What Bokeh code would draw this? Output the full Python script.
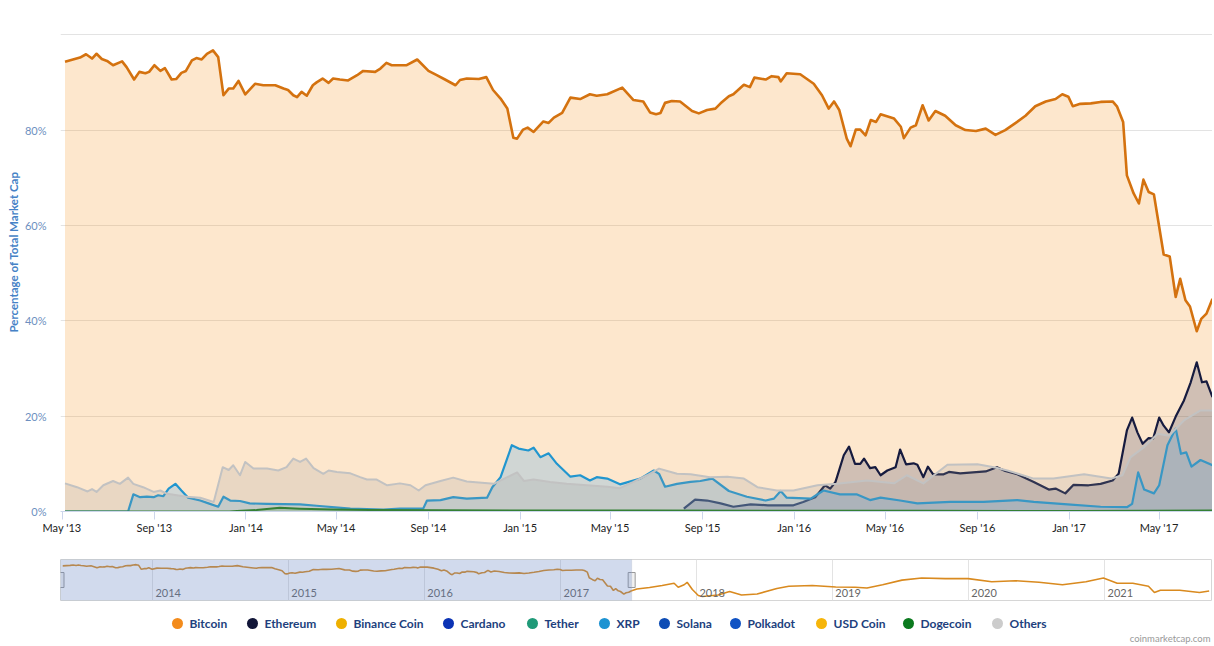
import pandas as pd
from bokeh.plotting import figure
from bokeh.models import ColumnDataSource, Range1d, FixedTicker, MonthsTicker, DatetimeTickFormatter, Title, BoxAnnotation
from bokeh.layouts import column
from bokeh.embed import file_html
from bokeh.resources import INLINE
from bokeh.core.properties import value

FONT = "Lato"

# ---------------- data (percentage of total market cap) ----------------
btc_dates = ["2013-05-05","2013-05-25","2013-06-02","2013-06-10","2013-06-16","2013-06-23","2013-06-30",
    "2013-07-08","2013-07-20","2013-07-26","2013-08-05","2013-08-12","2013-08-20","2013-08-25",
    "2013-09-01","2013-09-09","2013-09-15","2013-09-24","2013-09-30","2013-10-07","2013-10-13",
    "2013-10-21","2013-10-27","2013-11-03","2013-11-10","2013-11-18","2013-11-25","2013-12-02",
    "2013-12-09","2013-12-15","2013-12-22","2013-12-31",
    "2014-01-13","2014-01-24","2014-02-09","2014-02-20","2014-02-26","2014-03-05","2014-03-10",
    "2014-03-16","2014-03-23","2014-03-31","2014-04-05","2014-04-13","2014-04-21","2014-04-27",
    "2014-05-06","2014-05-17","2014-05-29","2014-06-06","2014-06-22","2014-06-29","2014-07-07",
    "2014-07-14","2014-07-25","2014-08-03","2014-08-17","2014-09-01","2014-09-12","2014-09-23",
    "2014-10-07","2014-10-13","2014-10-22","2014-11-07","2014-11-17","2014-11-26","2014-12-06",
    "2014-12-15","2014-12-23","2014-12-28",
    "2015-01-05","2015-01-11","2015-01-19","2015-02-01","2015-02-08","2015-02-15","2015-02-26",
    "2015-03-09","2015-03-22","2015-04-04","2015-04-13","2015-04-27","2015-05-17","2015-06-01",
    "2015-06-14","2015-06-23","2015-07-01","2015-07-07","2015-07-13","2015-07-22","2015-08-02",
    "2015-08-18","2015-08-27","2015-09-07","2015-09-18","2015-09-25","2015-10-06","2015-10-12",
    "2015-10-26","2015-11-03","2015-11-09","2015-11-24","2015-12-02","2015-12-11","2015-12-14",
    "2015-12-22",
    "2016-01-09","2016-01-27","2016-02-07","2016-02-16","2016-02-23","2016-03-01","2016-03-11",
    "2016-03-16","2016-03-23","2016-03-29","2016-04-05","2016-04-12","2016-04-19","2016-04-25",
    "2016-05-13","2016-05-22","2016-05-26","2016-06-04","2016-06-11","2016-06-20","2016-06-28",
    "2016-07-07","2016-07-20","2016-08-03","2016-08-16","2016-08-30","2016-09-12","2016-09-25",
    "2016-10-08","2016-10-22","2016-11-04","2016-11-17","2016-12-01","2016-12-14","2016-12-23",
    "2016-12-31",
    "2017-01-06","2017-01-16","2017-01-30","2017-02-12","2017-02-28","2017-03-06","2017-03-14",
    "2017-03-19","2017-03-28","2017-04-04","2017-04-10","2017-04-17","2017-04-24","2017-05-07",
    "2017-05-15","2017-05-23","2017-05-29","2017-06-05","2017-06-11","2017-06-20","2017-06-26",
    "2017-07-03","2017-07-11"]
btc_share = [94.3,95.2,95.9,95.0,96.0,94.9,94.5,93.6,94.4,93.2,90.6,92.2,91.9,92.2,93.6,92.4,93.0,
    90.6,90.7,92.0,92.4,94.6,95.1,94.8,96.0,96.7,95.3,87.3,88.7,88.7,90.3,87.5,
    89.7,89.4,89.4,88.7,88.4,87.3,86.9,88.0,87.2,89.4,90.0,90.8,89.9,90.8,90.6,90.4,91.5,92.4,
    92.2,92.9,94.1,93.6,93.6,93.6,94.8,92.4,91.5,90.6,89.4,90.5,90.8,90.7,91.1,88.4,86.6,84.5,
    78.4,78.2,
    80.1,80.5,79.6,81.8,81.5,82.6,83.6,86.8,86.5,87.5,87.2,87.5,88.9,86.3,86.0,83.7,83.3,83.6,
    85.7,86.1,86.0,84.0,83.5,84.2,84.5,85.6,87.1,87.5,89.5,89.0,91.0,90.6,91.3,91.1,90.2,91.9,
    91.7,89.7,87.3,84.5,86.0,84.2,78.2,76.6,80.1,80.1,78.9,82.1,81.7,83.3,82.4,80.7,78.3,80.5,
    81.0,85.2,82.0,84.0,83.0,81.0,80.0,79.8,80.3,79.0,80.0,81.5,83.0,85.0,86.0,86.5,87.5,87.0,
    85.0,85.5,85.6,85.9,86.0,84.9,81.7,70.5,66.7,64.6,69.6,67.0,66.5,53.9,53.5,45.0,48.8,44.3,
    43.0,37.8,40.4,41.5,44.6]

eth_dates = ["2015-08-07","2015-08-22","2015-09-07","2015-09-25","2015-10-12","2015-11-04","2015-11-27",
    "2015-12-31","2016-01-13","2016-01-29","2016-02-11","2016-02-18","2016-02-25","2016-03-07",
    "2016-03-14","2016-03-22","2016-03-29","2016-04-03","2016-04-11","2016-04-18","2016-04-25",
    "2016-05-04","2016-05-15","2016-05-21","2016-05-29","2016-06-08","2016-06-13","2016-06-21",
    "2016-06-27","2016-07-04","2016-07-18","2016-07-25","2016-08-09","2016-09-12","2016-09-27",
    "2016-10-08","2016-10-24","2016-11-15","2016-12-05","2016-12-14","2016-12-27","2017-01-07",
    "2017-01-27","2017-02-12","2017-02-28","2017-03-08","2017-03-19","2017-03-26","2017-04-02",
    "2017-04-09","2017-04-17","2017-04-23","2017-05-01","2017-05-07","2017-05-14","2017-05-23",
    "2017-06-03","2017-06-12","2017-06-20","2017-06-27","2017-07-03","2017-07-11"]
eth_share = [0.6,2.5,2.3,1.7,1.0,1.5,1.3,1.3,2.0,3.0,5.5,4.8,6.2,11.8,13.6,10.0,10.0,11.1,9.1,9.3,
    7.6,8.6,9.3,13.0,9.9,10.1,9.8,7.2,9.4,7.8,7.8,8.3,8.0,8.4,9.3,8.5,7.8,6.2,4.6,4.8,3.8,5.6,
    5.5,5.8,6.5,7.9,17.0,19.7,16.6,14.2,15.4,15.3,19.7,18.0,16.6,19.9,23.3,27.1,31.3,27.1,27.3,24.0]

xrp_dates = ["2013-05-05","2013-07-28","2013-08-04","2013-08-13","2013-08-22","2013-08-31","2013-09-06",
    "2013-09-13","2013-09-20","2013-09-29","2013-10-07","2013-10-16","2013-11-01","2013-11-14",
    "2013-11-25","2013-12-02","2013-12-11","2013-12-24","2014-01-06","2014-01-29","2014-03-14",
    "2014-04-05","2014-05-20","2014-07-03","2014-07-25","2014-08-25","2014-08-30","2014-09-17",
    "2014-10-04","2014-10-22","2014-11-18","2014-11-25","2014-12-06","2014-12-21","2014-12-30",
    "2015-01-12","2015-01-19","2015-01-28","2015-02-08","2015-02-19","2015-03-09","2015-03-22",
    "2015-04-04","2015-04-13","2015-04-27","2015-05-14","2015-06-10","2015-06-28","2015-07-05",
    "2015-07-13","2015-07-29","2015-08-16","2015-08-29","2015-09-14","2015-10-06","2015-10-30",
    "2015-11-24","2015-12-05","2015-12-14","2015-12-22","2016-01-23","2016-02-09","2016-03-02",
    "2016-03-24","2016-04-11","2016-04-25","2016-05-21","2016-06-13","2016-07-27","2016-09-09",
    "2016-10-24","2016-11-15","2016-12-30","2017-02-12","2017-03-19","2017-03-26","2017-04-03",
    "2017-04-11","2017-04-24","2017-05-01","2017-05-12","2017-05-23","2017-05-30","2017-06-06",
    "2017-06-13","2017-06-25","2017-07-11"]
xrp_share = [0,0,3.6,3.0,3.1,3.0,3.4,3.2,4.8,5.8,4.4,2.9,2.3,1.6,1.0,3.1,2.3,2.2,
    1.7,1.6,1.5,1.2,0.6,0.4,0.6,0.6,2.3,2.4,3.0,2.7,2.9,5.1,7.2,13.9,13.2,
    12.8,13.4,11.4,12.2,10.0,7.3,7.6,6.5,7.2,6.9,5.7,6.9,8.6,7.9,5.2,5.8,6.2,6.4,6.9,4.3,3.1,
    2.3,2.7,4.3,2.9,
    2.7,4.4,3.6,3.6,2.4,2.9,2.3,1.7,2.0,2.0,2.4,2.0,1.5,
    1.0,0.9,1.6,8.2,4.6,3.8,5.5,13.9,17.4,12.1,12.4,9.4,10.8,9.7]

doge_dates = ["2013-05-05","2013-12-10","2013-12-20","2014-01-15","2014-02-15","2014-03-14","2014-04-27",
    "2014-06-15","2014-09-15","2015-01-15","2015-06-15","2016-01-15","2016-06-15","2017-01-15",
    "2017-04-15","2017-07-11"]
doge_share = [0,0,0.1,0.3,0.8,0.6,0.4,0.3,0.25,0.2,0.2,0.15,0.15,0.1,0.15,0.2]

oth_dates = ["2013-05-05","2013-05-21","2013-06-04","2013-06-10","2013-06-16","2013-06-25","2013-07-08",
    "2013-07-17","2013-07-28","2013-08-04","2013-08-17","2013-08-31","2013-09-09","2013-09-18",
    "2013-10-01","2013-10-14","2013-11-01","2013-11-19","2013-12-01","2013-12-09","2013-12-15",
    "2013-12-24","2013-12-31","2014-01-11","2014-01-29","2014-02-13","2014-02-24","2014-03-05",
    "2014-03-14","2014-03-22","2014-04-01","2014-04-14","2014-04-21","2014-05-02","2014-05-20",
    "2014-06-02","2014-06-11","2014-06-24","2014-07-08","2014-07-25","2014-08-08","2014-08-19",
    "2014-08-28","2014-09-17","2014-10-04","2014-10-22","2014-11-27","2014-12-15","2014-12-28",
    "2015-01-06","2015-01-19","2015-02-10","2015-03-04","2015-03-31","2015-04-27","2015-05-14",
    "2015-06-01","2015-06-19","2015-07-05","2015-07-16","2015-07-29","2015-08-16","2015-09-11",
    "2015-10-04","2015-10-26","2015-11-13","2015-12-09","2015-12-31","2016-02-01","2016-02-27",
    "2016-04-07","2016-05-13","2016-05-30","2016-06-21","2016-07-05","2016-07-23","2016-09-01",
    "2016-09-23","2016-10-11","2016-11-15","2016-12-11","2017-01-21","2017-02-26","2017-03-13",
    "2017-03-24","2017-04-11","2017-04-29","2017-05-14","2017-06-03","2017-06-25","2017-07-11"]
oth_share = [5.9,5.1,4.2,4.7,4.1,5.5,6.4,5.8,7.1,5.8,5.1,4.1,4.4,3.7,3.4,3.1,2.9,2.0,9.3,8.7,9.7,
    7.6,10.4,9.0,9.0,8.6,9.3,11.1,10.4,11.1,9.1,7.9,8.6,8.3,8.0,7.2,6.7,6.7,5.5,5.9,5.5,4.4,
    5.5,6.4,7.1,6.3,5.8,7.2,8.2,6.4,6.7,6.2,5.8,5.5,5.2,4.9,6.2,7.6,9.0,8.5,7.9,7.8,7.2,7.3,
    6.9,5.1,4.4,4.4,5.5,5.8,6.5,5.9,7.6,5.9,7.6,9.8,9.9,9.3,8.6,6.9,6.9,7.8,6.9,7.6,11.4,13.5,
    16.3,15.9,19.1,21.2,21.2]

# Bitcoin dominance after the zoomed window (navigator only)
btc_ext_dates = ["2017-07-25","2017-08-28","2017-10-01","2017-11-02","2017-11-13","2017-11-29",
    "2017-12-07","2017-12-21","2018-01-06","2018-01-17","2018-02-28","2018-03-31","2018-05-02",
    "2018-06-13","2018-08-05","2018-09-06","2018-11-08","2019-01-10","2019-03-03","2019-04-04",
    "2019-05-16","2019-07-07","2019-08-29","2019-10-31","2020-01-01","2020-03-04","2020-05-07",
    "2020-07-09","2020-09-10","2020-11-12","2020-12-29","2021-02-04","2021-03-18","2021-04-29",
    "2021-05-15","2021-05-31","2021-07-22","2021-09-13","2021-10-09"]
btc_ext_share = [48,51,55,59.5,51.5,56.5,61.4,47,35,33,36,43,36,38,49,53.4,55,52,51.5,50,56.5,65.7,
    70,68.8,68.8,62.6,64.5,61.4,56.5,62.6,70,59.5,59.5,53.4,41,45.4,45.4,41,44]

y_tick_values = [0, 20, 40, 60, 80, 100]
y_tick_labels = ["0%", "20%", "40%", "60%", "80%", ""]
nav_years = ["2014", "2015", "2016", "2017", "2018", "2019", "2020", "2021"]

legend_names = ["Bitcoin", "Ethereum", "Binance Coin", "Cardano", "Tether", "XRP", "Solana",
                "Polkadot", "USD Coin", "Dogecoin", "Others"]
legend_colors = ["#f38b1c", "#111538", "#eeb000", "#0b33b5", "#1f9a78", "#1d93d2", "#0d4cb5",
                 "#0f52c4", "#f6b50a", "#0b7a1e", "#cccccc"]

main_start, main_end = "2013-04-29", "2017-07-11"
nav_start, nav_end = "2013-04-29", "2021-10-18"

# common frame: x 60..1212 in every panel (column aligns the frames)
FL, FR = 60, 1212

# ---------------- main chart ----------------
p = figure(width=1212, height=548, x_axis_type="datetime",
           x_range=Range1d(pd.Timestamp(main_start), pd.Timestamp(main_end)),
           y_range=Range1d(0, 100.25), output_backend="svg", toolbar_location=None,
           min_border_left=FL, min_border_right=0, min_border_top=33, min_border_bottom=37)
p.outline_line_color = None
p.background_fill_color = "white"

series = [
    (btc_dates, btc_share, "#d4720f", "#f7931a", 0.22, 2.6),
    (eth_dates, eth_share, "#161b3f", "#1c2150", 0.2, 2.2),
    (xrp_dates, xrp_share, "#2196cf", "#6aaee6", 0.3, 2.2),
    (doge_dates, doge_share, "#1b7a1b", "#1b8a1b", 0.2, 2.0),
    (oth_dates, oth_share, "#c2c2c2", "#9a9a9a", 0.2, 2.0),
]
for d, v, lc, fc, fa, lw in series:
    src = ColumnDataSource(dict(date=pd.to_datetime(d), share=v))
    p.varea(x="date", y1=0, y2="share", source=src, fill_color=fc, fill_alpha=fa)
    p.line(x="date", y="share", source=src, line_color=lc, line_width=lw, line_join="round")

p.xgrid.grid_line_color = None
p.ygrid.grid_line_color = "#e3e3e3"

xa = p.xaxis[0]
xa.ticker = MonthsTicker(months=[0, 4, 8])
xa.formatter = DatetimeTickFormatter(months="%b '%y", days="%b '%y", years="%b '%y")
xa.axis_line_color = "#ccd6eb"
xa.major_tick_line_color = "#ccd6eb"
xa.major_tick_out = 8
xa.major_tick_in = 0
xa.minor_tick_line_color = None
xa.major_label_standoff = 1
xa.major_label_text_font = FONT
xa.major_label_text_font_size = "11px"
xa.major_label_text_color = "#222222"

ya = p.yaxis[0]
ya.ticker = FixedTicker(ticks=y_tick_values)
ya.major_label_overrides = dict(zip(y_tick_values, y_tick_labels))
ya.axis_line_color = None
ya.major_tick_line_color = None
ya.minor_tick_line_color = None
ya.major_label_standoff = 8
ya.major_label_text_font = FONT
ya.major_label_text_font_size = "11px"
ya.major_label_text_color = "#6d8fc0"

p.add_layout(Title(text="Percentage of Total Market Cap", align="right", offset=138,
                   text_font=FONT, text_font_style="bold", text_font_size="11.5px",
                   text_color="#4682c6", standoff=4), "left")

# ---------------- navigator ----------------
nav_dates = pd.to_datetime(btc_dates + btc_ext_dates)
nav_vals = btc_share + btc_ext_share
nav_ymin, nav_ymax = 25, 107
nav = figure(width=1212, height=58, x_axis_type="datetime",
             x_range=Range1d(pd.Timestamp(nav_start), pd.Timestamp(nav_end)),
             y_range=Range1d(nav_ymin, nav_ymax), x_axis_location=None, y_axis_location=None,
             output_backend="svg", toolbar_location=None,
             min_border_left=FL, min_border_right=0, min_border_top=11, min_border_bottom=6)
nav.outline_line_color = "#d6d6d6"
year_ts = pd.to_datetime([y + "-01-01" for y in nav_years])
nav.xgrid.ticker = FixedTicker(ticks=[t.value / 1e6 for t in year_ts])
nav.xgrid.grid_line_color = "#e3e3e3"
nav.ygrid.grid_line_color = None
nav.line(x=nav_dates, y=nav_vals, line_color="#d98a1f", line_width=1.6)
nav.text(x=year_ts, y=[nav_ymin] * len(nav_years), text=nav_years, x_offset=3, y_offset=-4,
         text_baseline="bottom", text_font=value(FONT), text_font_size="11px", text_color="#666666")
nav.add_layout(BoxAnnotation(left=pd.Timestamp(main_start).value / 1e6,
                             right=pd.Timestamp(main_end).value / 1e6,
                             fill_color="#6685c2", fill_alpha=0.3,
                             line_color="#aab4c8", line_width=1))
nav.rect(x=pd.to_datetime([main_start, main_end]), y=[(nav_ymin + nav_ymax) / 2] * 2,
         width=7, height=15, width_units="screen", height_units="screen",
         fill_color="#f2f2f2", line_color="#999999")

# ---------------- legend ----------------
legend_x = [177, 252, 341, 448, 532, 604, 664, 735, 821, 908, 997]
leg = figure(width=1212, height=38, x_range=Range1d(FL, FR), y_range=Range1d(644, 606),
             x_axis_location=None, y_axis_location=None, output_backend="svg",
             toolbar_location=None, min_border_left=FL, min_border_right=0,
             min_border_top=0, min_border_bottom=0)
leg.grid.grid_line_color = None
leg.outline_line_color = None
leg.scatter(x=legend_x, y=[623] * len(legend_x), size=11, fill_color=legend_colors, line_color=None)
leg.text(x=legend_x, y=[623] * len(legend_x), text=legend_names, x_offset=12,
         text_baseline="middle", text_font=value(FONT), text_font_style="bold",
         text_font_size="12px", text_color="#213f7d")
leg.text(x=[1210], y=[644], text=["coinmarketcap.com"], text_align="right", y_offset=-1,
         text_baseline="bottom", text_font=value(FONT), text_font_size="9.5px", text_color="#999999")

layout = column(p, nav, leg, spacing=0)
open("out.html", "w").write(file_html(layout, INLINE))
